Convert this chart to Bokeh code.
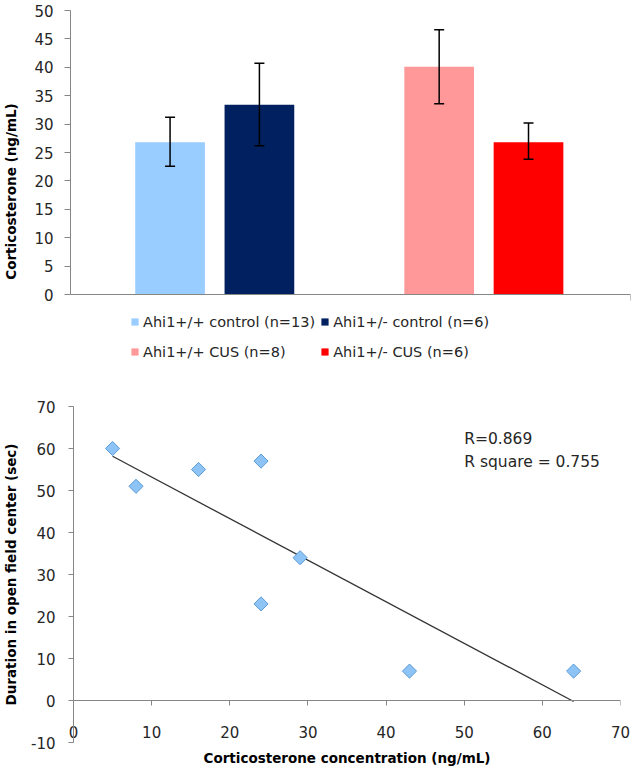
import numpy as np
from bokeh.plotting import figure
from bokeh.models import (ColumnDataSource, Whisker, TeeHead, Legend, LegendItem,
                          Range1d, FixedTicker, Label, LinearAxis)
from bokeh.embed import file_html
from bokeh.resources import INLINE

# ---------------- data ----------------
groups = ["control", "CUS"]
series_labels = ["Ahi1+/+ control (n=13)", "Ahi1+/- control (n=6)",
                 "Ahi1+/+ CUS (n=8)", "Ahi1+/- CUS (n=6)"]
series_group = [0, 0, 1, 1]
series_colors = ["#99CCFF", "#002060", "#FF9999", "#FF0000"]
cort_mean = [26.8, 33.4, 40.1, 26.8]
cort_upper = [31.2, 40.7, 46.6, 30.2]
cort_lower = [22.6, 26.2, 33.6, 23.8]
bar_yticks = [0, 5, 10, 15, 20, 25, 30, 35, 40, 45, 50]

cort_conc = [5, 8, 16, 24, 29, 24, 43, 64]
open_field = [60, 51, 55, 57, 34, 23, 7, 7]
sc_xticks = [0, 10, 20, 30, 40, 50, 60, 70]
sc_yticks = [-10, 0, 10, 20, 30, 40, 50, 60, 70]
r_text = ["R=0.869", "R square = 0.755"]

FONT = "DejaVu Sans"
AXIS_COL = "#868686"
TXT_COL = "#262626"
TICK_FS = "15px"
TITLE_FS = "13.5px"

def style_axes(p):
    for ax in p.axis:
        ax.axis_line_color = AXIS_COL
        ax.major_tick_line_color = AXIS_COL
        ax.minor_tick_line_color = None
        ax.major_tick_in = 0
        ax.major_tick_out = 6
        ax.major_label_text_font = FONT
        ax.major_label_text_font_size = TICK_FS
        ax.major_label_text_color = TXT_COL
        ax.axis_label_text_font = FONT
        ax.axis_label_text_font_size = TITLE_FS
        ax.axis_label_text_font_style = "bold"
        ax.axis_label_text_color = "#000000"
    p.grid.visible = False
    p.outline_line_color = None

# ---------------- top: bar chart ----------------
# the frame reaches below y = 0 so that the legend sits inside it
p1 = figure(width=632, height=375, output_backend="svg", toolbar_location=None,
            x_range=Range1d(-0.536, 1.545), y_range=Range1d(-13.73, 50),
            min_border_left=67, min_border_right=2, min_border_top=10,
            min_border_bottom=3)
style_axes(p1)
p1.yaxis.ticker = FixedTicker(ticks=bar_yticks)
p1.yaxis.bounds = (0, 50)
p1.yaxis.axis_label = "Corticosterone (ng/mL)"
p1.yaxis.major_label_standoff = 11
p1.yaxis.axis_label_standoff = 12
p1.xaxis.ticker = FixedTicker(ticks=[1.545])
p1.xaxis.fixed_location = 0
p1.xaxis.major_label_text_color = None

bar_offset = 0.166
items = []
for i, lab in enumerate(series_labels):
    xpos = series_group[i] + (-bar_offset if i % 2 == 0 else bar_offset)
    src = ColumnDataSource(dict(x=[xpos], top=[cort_mean[i]],
                                upper=[cort_upper[i]], lower=[cort_lower[i]]))
    r = p1.vbar(x="x", top="top", bottom=0, width=0.259, source=src,
                fill_color=series_colors[i], line_color=None)
    w = Whisker(source=src, base="x", upper="upper", lower="lower",
                line_color="black", line_width=1.5, level="overlay",
                upper_head=TeeHead(size=10, line_color="black", line_width=1.5),
                lower_head=TeeHead(size=10, line_color="black", line_width=1.5))
    p1.add_layout(w)
    items.append(LegendItem(label=lab, renderers=[r]))

legend = Legend(items=items, location=(60, 8), orientation="horizontal",
                ncols=2, nrows=2, glyph_width=9, glyph_height=9,
                label_standoff=4, label_height=25, spacing=5, padding=0,
                margin=0, border_line_color=None, background_fill_alpha=0,
                label_text_font=FONT, label_text_font_size="14.5px",
                label_text_color=TXT_COL)
p1.add_layout(legend, "center")

# ---------------- bottom: scatter ----------------
p2 = figure(width=632, height=393, output_backend="svg", toolbar_location=None,
            x_range=Range1d(0, 70), y_range=Range1d(-10, 70),
            min_border_left=72, min_border_right=12, min_border_top=31,
            min_border_bottom=26)
style_axes(p2)
# axis line and ticks at y = 0
p2.xaxis.ticker = FixedTicker(ticks=sc_xticks)
p2.xaxis.fixed_location = 0
p2.xaxis.major_label_text_color = None
p2.xaxis.major_tick_out = 5
# tick labels and title for the x axis, drawn up into the band below y = 0
xlab_axis = LinearAxis(ticker=FixedTicker(ticks=sc_xticks),
                       axis_label="Corticosterone concentration (ng/mL)",
                       axis_line_color=None, major_tick_line_color=None,
                       minor_tick_line_color=None, major_tick_in=0, major_tick_out=0,
                       major_label_standoff=-17, axis_label_standoff=9,
                       major_label_text_font=FONT, major_label_text_font_size=TICK_FS,
                       major_label_text_color=TXT_COL,
                       axis_label_text_font=FONT, axis_label_text_font_size=TITLE_FS,
                       axis_label_text_font_style="bold", axis_label_text_color="#000000")
p2.add_layout(xlab_axis, "below")

p2.yaxis.ticker = FixedTicker(ticks=sc_yticks)
p2.yaxis.major_label_overrides = {-10: "-10"}
p2.yaxis.axis_label = "Duration in open field center (sec)"
p2.yaxis.major_tick_out = 5
p2.yaxis.major_label_standoff = 13
p2.yaxis.axis_label_standoff = 9

slope, intercept = np.polyfit(cort_conc, open_field, 1)
xl = [min(cort_conc), max(cort_conc)]
yl = [slope * x + intercept for x in xl]
p2.line(xl, yl, line_color="#333333", line_width=1.3)

p2.scatter(cort_conc, open_field, marker="square", angle=np.pi / 4, size=10,
           fill_color="#8EC3F5", line_color="#5B9BD5", line_width=1)

for k, t in enumerate(r_text):
    p2.add_layout(Label(x=50, y=62.2 - k * 5.5, text=t, text_font=FONT,
                        text_font_size="15.5px", text_color=TXT_COL,
                        text_baseline="middle"))

# two independent roots, stacked, so their frames are not aligned to each other
open("out.html", "w").write(file_html([p1, p2], INLINE))
